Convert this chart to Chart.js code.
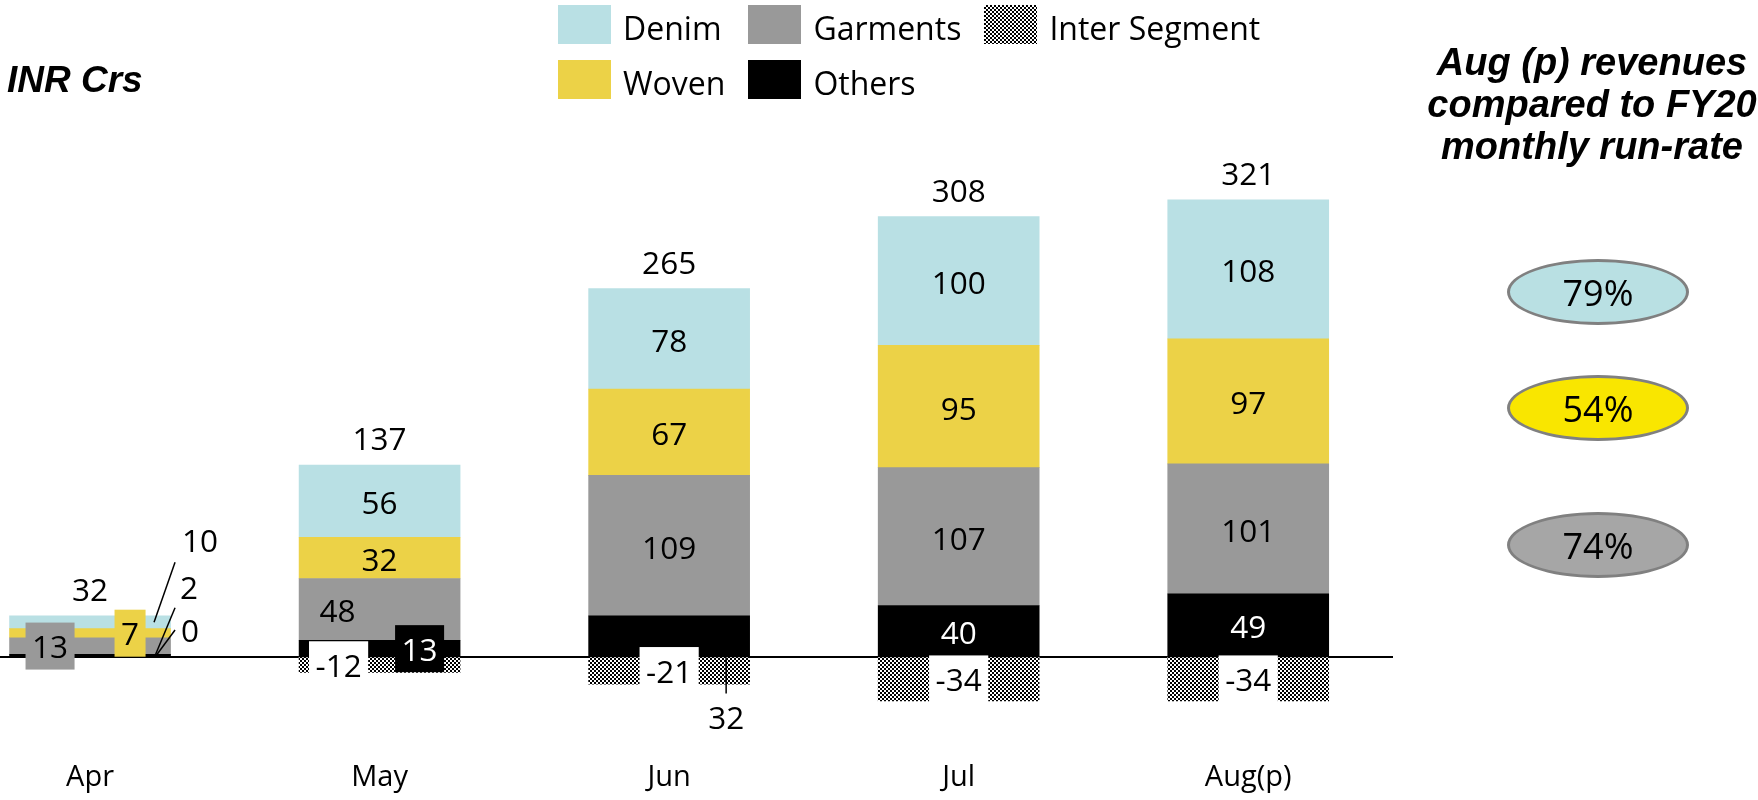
<!DOCTYPE html>
<html>
<head>
<meta charset="utf-8">
<script src="https://cdn.jsdelivr.net/npm/chart.js@4.4.0/dist/chart.umd.min.js"></script>
<style>
    html, body { margin: 0; padding: 0; background: #fff; }
    #wrap { position: relative; width: 1758px; height: 800px; overflow: hidden; }
    #chartBox { position: absolute; left: 0; top: 0; width: 1758px; height: 800px; }
    .unit { position: absolute; left: 7px; top: 61px; font: italic bold 37px/37px "Liberation Sans", Arial, sans-serif; white-space: nowrap; }
    #legend { position: absolute; left: 558px; top: 5px; display: grid; grid-template-columns: repeat(3, auto); column-gap: 23px; row-gap: 16px; font: 32px/39px "Open Sans", sans-serif; }
    .item { display: flex; align-items: flex-start; white-space: nowrap; }
    .swatch { width: 53px; height: 39px; margin-right: 12px; }
    .item span { position: relative; top: 2.6px; }
    .side { position: absolute; left: 1392px; width: 400px; top: 41px; text-align: center; font: italic bold 38px/42px "Liberation Sans", Arial, sans-serif; white-space: nowrap; }
    .oval { position: absolute; box-sizing: border-box; width: 182px; height: 66px; border: 3px solid #808080; border-radius: 50%; display: flex; align-items: center; justify-content: center; font: 36px "Open Sans", sans-serif; }
</style>
</head>
<body>
<div id="wrap">
    <div id="chartBox"><canvas id="revChart"></canvas></div>
    <div class="unit">INR Crs</div>
    <div id="legend"></div>
    <div class="side">Aug (p) revenues<br>compared to FY20<br>monthly run-rate</div>
</div>
<script>
const months = ["Apr", "May", "Jun", "Jul", "Aug(p)"];
const denim = [10, 56, 78, 100, 108];
const woven = [7, 32, 67, 95, 97];
const garments = [13, 48, 109, 107, 101];
const others = [2, 13, 32, 40, 49];
const interSegment = [0, -12, -21, -34, -34];
const totals = [32, 137, 265, 308, 321];
const runRate = ["79%", "54%", "74%"];

const colors = {
    "Denim": "#B9E0E4",
    "Woven": "#ECD247",
    "Garments": "#999999",
    "Others": "#000000"
};
const ovalColors = ["#B9E0E3", "#F9E600", "#A6A6A6"];
const ovalY = [292, 408, 545];

// label placement tweaks (px, relative to the bar centre / segment centre)
const tweaks = {
    "Garments|0": { dx: -40, box: true },
    "Woven|0": { dx: 40, box: true },
    "Denim|0": { callout: [110, -81, 85, -60, 64, 0] },
    "Others|0": { callout: [99, -68, 85, -48, 65, 0] },
    "Inter Segment|0": { callout: [100, -26, 85, -27, 65, 0] },
    "Garments|1": { dx: -42 },
    "Others|1": { dx: 40, box: true },
    "Inter Segment|1": { dx: -41, box: "#fff" },
    "Others|2": { callout: [57, 81.5, 57, 21, 57, 57] },
    "Inter Segment|2": { box: "#fff" },
    "Inter Segment|3": { box: "#fff" },
    "Inter Segment|4": { box: "#fff" }
};

function checker(cell) {
    const c = document.createElement("canvas");
    c.width = cell * 2; c.height = cell * 2;
    const g = c.getContext("2d");
    g.fillStyle = "#fff"; g.fillRect(0, 0, cell * 2, cell * 2);
    g.fillStyle = "#000"; g.fillRect(0, 0, cell, cell); g.fillRect(cell, cell, cell, cell);
    return g.createPattern(c, "repeat");
}

const pts = arr => arr.map((v, i) => ({ x: i, y: v }));
const labelFont = "31.5px 'Open Sans', sans-serif";

function drawText(ctx, text, cx, cy, color) {
    ctx.fillStyle = color;
    ctx.fillText(text, cx, cy + 11);
}

const segLabels = {
    id: "segLabels",
    beforeDatasetsDraw(chart) {
        const { ctx, chartArea, scales } = chart;
        const y0 = scales.y.getPixelForValue(0);
        ctx.save();
        ctx.strokeStyle = "#000";
        ctx.lineWidth = 2;
        ctx.beginPath();
        ctx.moveTo(chartArea.left, y0);
        ctx.lineTo(chartArea.right, y0);
        ctx.stroke();
        ctx.restore();
    },
    afterDatasetsDraw(chart) {
        const { ctx, scales } = chart;
        const y0 = scales.y.getPixelForValue(0);
        ctx.save();
        ctx.font = labelFont;
        ctx.textAlign = "center";
        ctx.textBaseline = "alphabetic";
        chart.data.datasets.forEach((ds, di) => {
            const meta = chart.getDatasetMeta(di);
            meta.data.forEach((el, j) => {
                const { x, y, base } = el.getProps(["x", "y", "base"], true);
                const val = ds.data[j].y;
                const mid = val === 0 ? y0 : (y + base) / 2;
                const t = tweaks[ds.label + "|" + j] || {};
                const txtColor = ds.label == "Others" ? "#fff" : "#000";
                const text = String(val);
                if (t.callout) {
                    const c = t.callout;
                    ctx.strokeStyle = "#000";
                    ctx.lineWidth = 1.5;
                    ctx.beginPath();
                    ctx.moveTo(x + c[2], mid + c[3]);
                    ctx.lineTo(x + c[4], mid + c[5]);
                    ctx.stroke();
                    drawText(ctx, text, x + c[0], mid + c[1], "#000");
                    return;
                }
                const cx = x + (t.dx || 0);
                if (t.box) {
                    const w = ctx.measureText(text).width + 13;
                    ctx.fillStyle = t.box === true ? ds.backgroundColor : t.box;
                    ctx.fillRect(cx - w / 2, mid - 23.5, w, 47);
                    drawText(ctx, text, cx, mid + 1, txtColor);
                } else {
                    drawText(ctx, text, cx, mid + 2, txtColor);
                }
            });
        });

        // totals above the stacks
        const topMeta = chart.getDatasetMeta(3);
        topMeta.data.forEach((el, j) => {
            ctx.fillStyle = "#000";
            ctx.fillText(String(totals[j]), el.x, el.y - 15);
        });

        // category labels
        ctx.font = "29px 'Open Sans', sans-serif";
        months.forEach((m, i) => {
            ctx.fillText(m, scales.x.getPixelForValue(i), 786);
        });
        ctx.restore();
    }
};

document.addEventListener("DOMContentLoaded", () => {
    const ctx = document.getElementById("revChart").getContext("2d");
    const hatch = checker(2);
    const datasets = [
        { label: "Others", data: pts(others), backgroundColor: colors["Others"] },
        { label: "Garments", data: pts(garments), backgroundColor: colors["Garments"] },
        { label: "Woven", data: pts(woven), backgroundColor: colors["Woven"] },
        { label: "Denim", data: pts(denim), backgroundColor: colors["Denim"] },
        {
            label: "Inter Segment",
            data: pts(interSegment),
            backgroundColor: c => (c.raw && c.raw.y === 0) ? "rgba(0,0,0,0)" : hatch
        }
    ];

    new Chart(ctx, {
        type: "bar",
        data: { datasets },
        options: {
            responsive: true,
            maintainAspectRatio: false,
            animation: false,
            layout: { padding: { left: 0, right: 365, top: 0, bottom: 0 } },
            datasets: { bar: { barThickness: 161, borderWidth: 0 } },
            plugins: {
                legend: { display: false },
                tooltip: { enabled: false }
            },
            scales: {
                x: { type: "linear", min: -0.311, max: 4.5, offset: false, stacked: true, display: false },
                y: { min: -111, max: 510.1, stacked: true, display: false }
            }
        },
        plugins: [segLabels]
    });

    // legend, row by row as in the slide
    const legend = document.getElementById("legend");
    const order = ["Denim", "Garments", "Inter Segment", "Woven", "Others"];
    order.forEach(name => {
        const item = document.createElement("div");
        item.className = "item";
        const sw = document.createElement("div");
        sw.className = "swatch";
        if (name == "Inter Segment") {
            sw.style.background = "repeating-conic-gradient(#000 0 25%, #fff 0 50%) 0 0 / 4px 4px";
        } else {
            sw.style.background = colors[name];
        }
        const txt = document.createElement("span");
        txt.textContent = name;
        item.appendChild(sw);
        item.appendChild(txt);
        legend.appendChild(item);
    });

    const wrap = document.getElementById("wrap");
    runRate.forEach((r, i) => {
        const o = document.createElement("div");
        o.className = "oval";
        o.style.left = (1598 - 91) + "px";
        o.style.top = (ovalY[i] - 33) + "px";
        o.style.background = ovalColors[i];
        o.textContent = r;
        wrap.appendChild(o);
    });
});
</script>
</body>
</html>
